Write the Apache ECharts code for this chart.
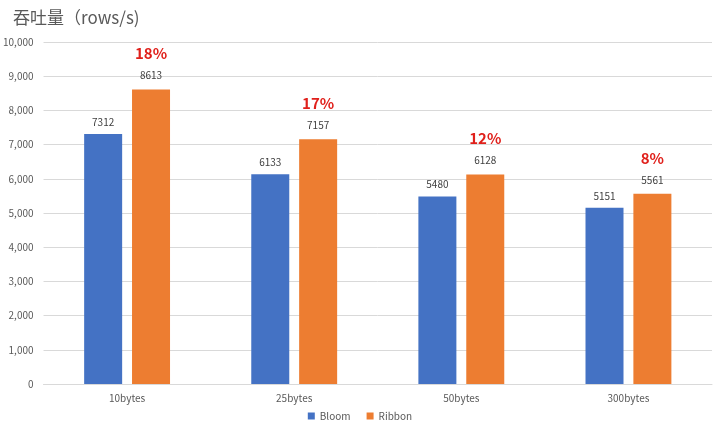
<!DOCTYPE html>
<html>
<head>
<meta charset="utf-8">
<script src="https://cdn.jsdelivr.net/npm/echarts@6/dist/echarts.min.js"></script>
<style>html,body{margin:0;padding:0;background:#fff}#chart{width:720px;height:430px}</style>
</head>
<body>
<div id="chart"></div>
<script>
const categories = ['10bytes', '25bytes', '50bytes', '300bytes'];
const bloom = [7312, 6133, 5480, 5151];
const ribbon = [8613, 7157, 6128, 5561];
const gains = ['18%', '17%', '12%', '8%'];

const chart = echarts.init(document.getElementById('chart'));
chart.setOption({
  animation: false,
  textStyle: { fontFamily: '"Noto Sans CJK SC", "Noto Sans", sans-serif' },
  title: {
    text: '吞吐量（rows/s)',
    left: 8, top: 4,
    textStyle: { fontSize: 17, fontWeight: 'normal', color: '#595959' }
  },
  legend: {
    bottom: 4, itemWidth: 7, itemHeight: 7, icon: 'rect', itemGap: 16,
    textStyle: { fontSize: 10, color: '#595959' },
    data: ['Bloom', 'Ribbon']
  },
  grid: { left: 40, right: 8, top: 42, bottom: 46 },
  xAxis: {
    type: 'category', data: categories,
    axisLine: { lineStyle: { color: '#d9d9d9' } },
    axisTick: { show: false },
    axisLabel: { color: '#595959', fontSize: 10, margin: 9 }
  },
  yAxis: {
    type: 'value', min: 0, max: 10000, interval: 1000,
    axisLine: { show: false }, axisTick: { show: false },
    axisLabel: { color: '#595959', fontSize: 10, margin: 10 },
    splitLine: { lineStyle: { color: '#d9d9d9' } }
  },
  series: [
    {
      name: 'Bloom', type: 'bar', data: bloom, barWidth: 38, barGap: '26%',
      itemStyle: { color: '#4472C4' },
      label: { show: true, position: 'top', color: '#404040', fontSize: 10, distance: 7 }
    },
    {
      name: 'Ribbon', type: 'bar', data: ribbon, barWidth: 38,
      itemStyle: { color: '#ED7D31' },
      label: {
        show: true, position: 'top', distance: 7,
        formatter: p => '{p|' + gains[p.dataIndex] + '}\n{v|' + p.value + '}',
        rich: {
          p: { color: '#E0201B', fontSize: 15, fontWeight: 'bold', lineHeight: 30 },
          v: { color: '#404040', fontSize: 10, lineHeight: 14 }
        }
      }
    }
  ]
});
</script>
</body>
</html>
